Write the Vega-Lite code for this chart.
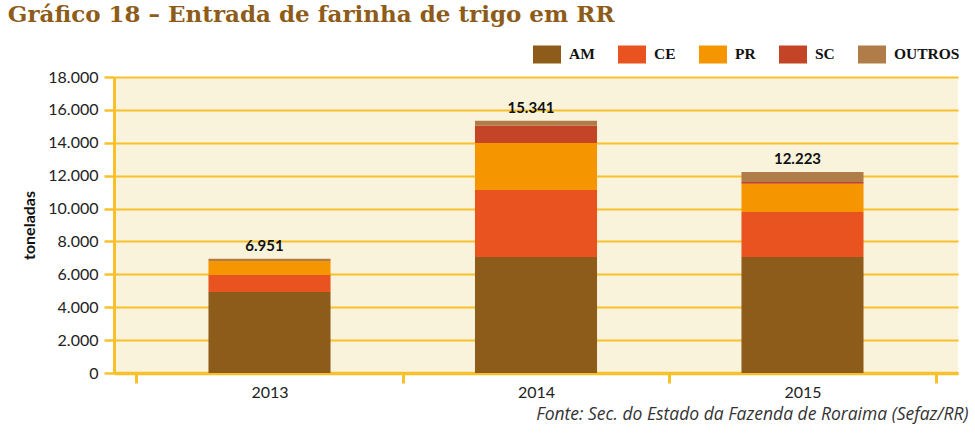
{
  "$schema": "https://vega.github.io/schema/vega-lite/v6.json",
  "autosize": {"type": "none"},
  "width": 844,
  "height": 296,
  "padding": {"left": 114, "top": 77, "right": 17, "bottom": 66},
  "background": "#ffffff",
  "title": {
    "text": "Gráfico 18 – Entrada de farinha de trigo em RR",
    "anchor": "start",
    "frame": "bounds",
    "font": "DejaVu Serif",
    "fontSize": 23,
    "fontWeight": "bold",
    "color": "#8E5C1A",
    "dx": -14,
    "offset": 13
  },
  "config": {
    "locale": {"number": {"decimal": ",", "thousands": ".", "grouping": [3], "currency": ["R$", ""]}},
    "view": {"fill": "#FAF3DC", "stroke": null},
    "font": "Lato"
  },
  "data": {
    "values": [
      {"ano": "2013", "origem": "AM", "toneladas": 4930},
      {"ano": "2013", "origem": "CE", "toneladas": 1034},
      {"ano": "2013", "origem": "PR", "toneladas": 849},
      {"ano": "2013", "origem": "SC", "toneladas": 0},
      {"ano": "2013", "origem": "Outros", "toneladas": 138},
      {"ano": "2014", "origem": "AM", "toneladas": 7050},
      {"ano": "2014", "origem": "CE", "toneladas": 4080},
      {"ano": "2014", "origem": "PR", "toneladas": 2860},
      {"ano": "2014", "origem": "SC", "toneladas": 1050},
      {"ano": "2014", "origem": "Outros", "toneladas": 301},
      {"ano": "2015", "origem": "AM", "toneladas": 7050},
      {"ano": "2015", "origem": "CE", "toneladas": 2740},
      {"ano": "2015", "origem": "PR", "toneladas": 1720},
      {"ano": "2015", "origem": "SC", "toneladas": 100},
      {"ano": "2015", "origem": "Outros", "toneladas": 613}
    ]
  },
  "encoding": {
    "x": {
      "field": "ano",
      "type": "nominal",
      "scale": {"paddingInner": 0, "paddingOuter": 0.0835},
      "axis": {
        "title": "Fonte: Sec. do Estado da Fazenda de Roraima (Sefaz/RR)",
        "titleFont": "Open Sans",
        "titleFontStyle": "italic",
        "titleFontWeight": "normal",
        "titleFontSize": 17.5,
        "titleColor": "#333333",
        "titleAlign": "right",
        "titleAnchor": "end",
        "titleX": 854,
        "titlePadding": 5,
        "labelAngle": 0,
        "labelFont": "Lato",
        "labelFontSize": 16,
        "labelColor": "#222222",
        "labelPadding": 1,
        "domainColor": "#F8C12B",
        "domainWidth": 3.5,
        "tickColor": "#F8C12B",
        "tickWidth": 3,
        "tickSize": 10,
        "tickBand": "extent",
        "grid": false
      }
    },
    "y": {
      "field": "toneladas",
      "type": "quantitative",
      "aggregate": "sum",
      "scale": {"domain": [0, 18000], "nice": false},
      "axis": {
        "title": "toneladas",
        "titleFont": "Lato",
        "titleFontSize": 16,
        "titleFontWeight": "bold",
        "titleColor": "#111111",
        "titlePadding": 10,
        "values": [0, 2000, 4000, 6000, 8000, 10000, 12000, 14000, 16000, 18000],
        "format": ",d",
        "labelFont": "Lato",
        "labelFontSize": 16,
        "labelColor": "#222222",
        "labelPadding": 6,
        "domainColor": "#F8C12B",
        "domainWidth": 3,
        "tickColor": "#F8C12B",
        "tickWidth": 2.5,
        "tickSize": 10,
        "grid": true,
        "gridColor": "#F8C12B",
        "gridWidth": 2,
        "gridOpacity": 1
      }
    }
  },
  "layer": [
    {
      "mark": {"type": "bar", "width": {"band": 0.458}},
      "transform": [
        {"calculate": "indexof(['AM','CE','PR','SC','Outros'], datum.origem)", "as": "ordem"}
      ],
      "encoding": {
        "color": {
          "field": "origem",
          "type": "nominal",
          "sort": ["AM", "CE", "PR", "SC", "Outros"],
          "scale": {
            "domain": ["AM", "CE", "PR", "SC", "Outros"],
            "range": ["#8E5C1A", "#E8531F", "#F59500", "#C34426", "#B07D48"]
          },
          "legend": {
            "title": null,
            "orient": "none",
            "direction": "horizontal",
            "legendX": 419,
            "legendY": -37,
            "padding": 0,
            "symbolType": "M-1,-0.643H1V0.643H-1Z",
            "symbolSize": 784,
            "symbolStrokeWidth": 0,
            "symbolOpacity": 1,
            "labelOffset": 8,
            "columnPadding": 23,
            "labelFont": "Liberation Serif",
            "labelFontSize": 15.5,
            "labelFontWeight": "bold",
            "labelColor": "#111111",
            "labelExpr": "upper(datum.label)"
          }
        },
        "order": {"field": "ordem", "type": "quantitative", "sort": "ascending"}
      }
    },
    {
      "mark": {"type": "text", "baseline": "bottom", "dy": -5, "dx": -5, "font": "Lato", "fontSize": 15, "fontWeight": "bold", "color": "#111111"},
      "encoding": {
        "text": {"field": "toneladas", "aggregate": "sum", "type": "quantitative", "format": ",d"}
      }
    }
  ]
}
